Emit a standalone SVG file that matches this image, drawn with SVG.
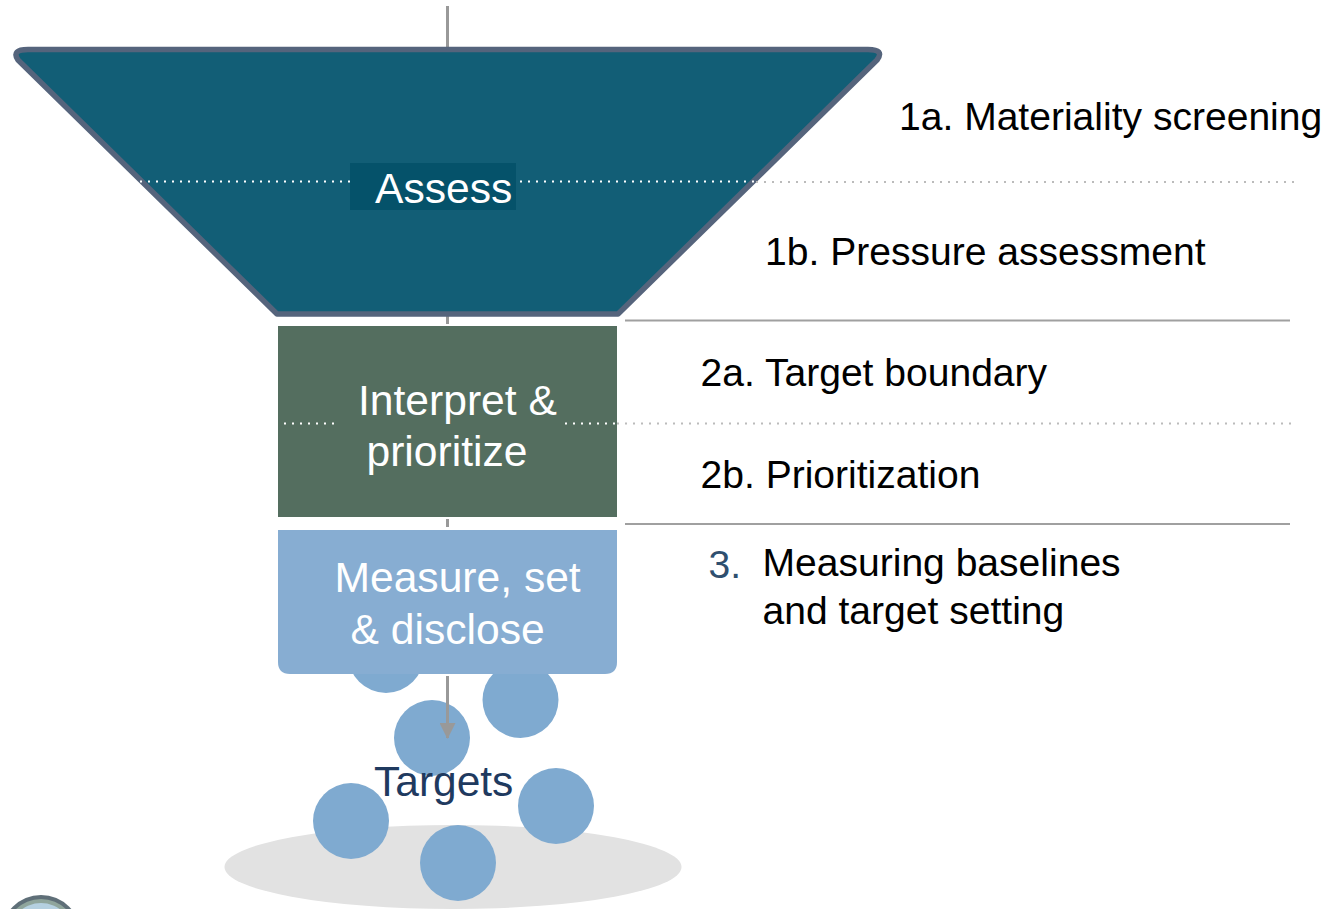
<svg xmlns="http://www.w3.org/2000/svg" width="1327" height="909" viewBox="0 0 1327 909">
<style>
text{font-family:"Liberation Sans",Arial,sans-serif}
.w{fill:#fff;font-size:42.600px}
.b{fill:#000;font-size:39.050px}
.g{stroke:#a0a0a0;stroke-width:2;fill:none}
.c{stroke:#999;stroke-width:3;fill:none}
.dw{stroke:#fff;stroke-width:2;stroke-dasharray:2 6;fill:none}
.dg{stroke:#bbb;stroke-width:2;stroke-dasharray:2 6;fill:none}
.t{fill:#7faad0}
</style>
<defs><marker id="ah" markerUnits="userSpaceOnUse" markerWidth="16" markerHeight="16" refX="15" refY="8" orient="auto"><path d="M0 0L16 8L0 16Z" fill="#999"/></marker></defs>
<g id="logo"><circle cx="41" cy="935" r="40" fill="#5f6f78"/><circle cx="41" cy="935" r="36" fill="#8fa59c"/><circle cx="41" cy="935" r="32" fill="#b5d0e0"/></g>
<g id="base"><ellipse cx="453" cy="867" rx="228.500" ry="42" fill="#e2e2e2"/></g>
<g id="targets">
<circle class="t" cx="386" cy="655" r="38"/><circle class="t" cx="520.500" cy="700" r="38"/><circle class="t" cx="432" cy="738" r="38"/><circle class="t" cx="556" cy="806" r="38"/><circle class="t" cx="351" cy="821" r="38"/><circle class="t" cx="458" cy="863" r="38"/>
<text x="374" y="796" fill="#1f3a5f" style="font-size:42.500px">Targets</text>
</g>
<g id="connectors">
<path class="c" d="M447.500 6V47M447.500 316V324M447.500 519V527"/>
<path class="c" d="M447.500 676V738" marker-end="url(#ah)"/>
<path class="g" d="M625 320.500H1290M625 524H1290"/>
</g>
<g id="assess">
<path d="M28 49.500H868Q885 49.500 877 60L618 314H277L18 60Q11 49.500 28 49.500Z" fill="#125e76" stroke="#55647c" stroke-width="5.500" stroke-linejoin="round"/>
<rect x="350" y="163" width="166" height="47" fill="#05526a"/>
<path class="dw" d="M140 181.500H350M520 181.500H756"/>
<path class="dg" d="M756 182H1296"/>
<text class="w" x="375" y="203">Assess</text>
</g>
<g id="interpret">
<rect x="278" y="326" width="339" height="191" fill="#546e5f"/>
<path class="dw" d="M284 423.500H336M565 423.500H617"/>
<path class="dg" d="M617 423.500H1291"/>
<text class="w" x="358" y="415">Interpret &amp;</text>
<text class="w" x="366.500" y="466">prioritize</text>
</g>
<g id="measure">
<path d="M278 530H617V662Q617 674 605 674H290Q278 674 278 662Z" fill="#87add2"/>
<text class="w" x="334.500" y="592">Measure, set</text>
<text class="w" x="350.500" y="644">&amp; disclose</text>
</g>
<g id="labels">
<text class="b" x="899" y="130">1a. Materiality screening</text>
<text class="b" x="765" y="265">1b. Pressure assessment</text>
<text class="b" x="700.500" y="386">2a. Target boundary</text>
<text class="b" x="700.500" y="488">2b. Prioritization</text>
<text class="b" x="708.500" y="578" style="fill:#2f4f6f">3.</text>
<text class="b" x="762.500" y="576">Measuring baselines</text>
<text class="b" x="762.500" y="623.500">and target setting</text>
</g>
</svg>
